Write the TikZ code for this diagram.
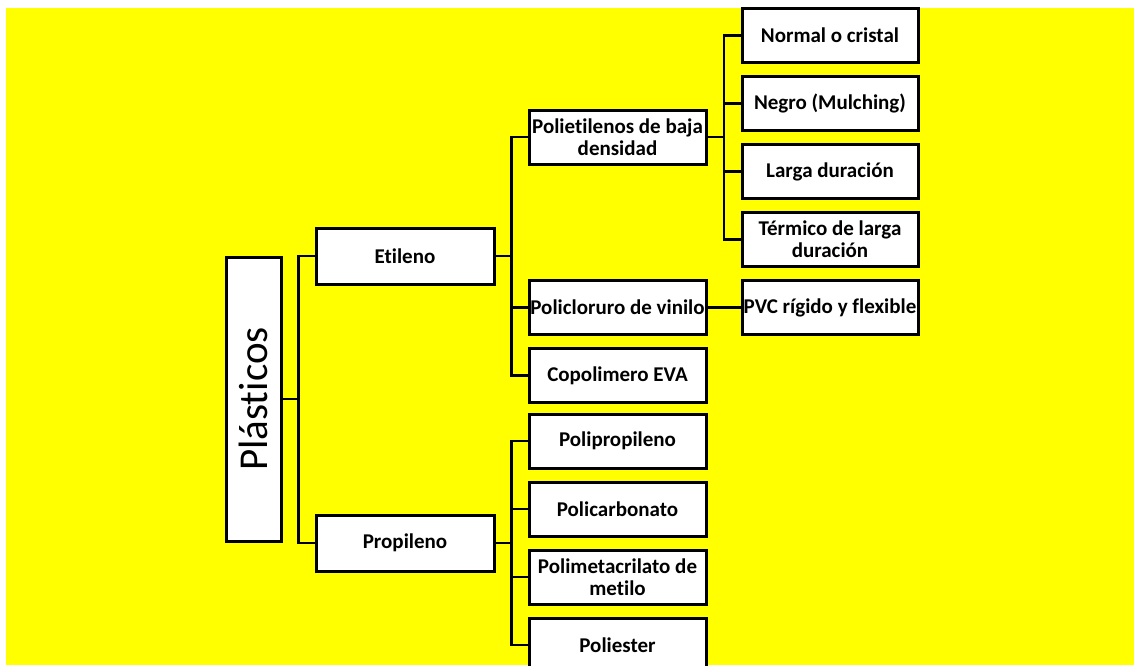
\documentclass[tikz,border=0pt]{standalone}
\usepackage{fontspec}
\setmainfont[Ligatures=NoCommon]{Carlito}
\usepackage{xcolor}
\usepackage{tikz}
\usetikzlibrary{positioning}

\definecolor{sheet}{RGB}{255,255,0}

\begin{document}
\begin{tikzpicture}[x=1pt, y=1pt,
  box/.style={draw, fill=white, line width=1.5pt, align=center, outer sep=0pt,
              inner xsep=0.5pt, inner ysep=1pt,
              font=\fontsize{10.5}{11}\selectfont\bfseries, minimum height=27pt},
  lvla/.style={box, minimum width=89pt, minimum height=28pt},
  lvlb/.style={box, minimum width=88.5pt},
  lvlc/.style={box, minimum width=88pt},
  con/.style={line width=1.3pt}]

  % page and yellow sheet
  \clip (0,0) rectangle (567,-332.5);
  \fill[sheet] (3,-4) rectangle (567,-332.5);

  % root and first level
  \node[draw, fill=white, line width=1.5pt, outer sep=0pt, inner sep=0pt,
        minimum width=27.5pt, minimum height=142pt,
        font=\fontsize{20.5}{22}\selectfont] (plast) at (126.75,-199.5)
        {\rotatebox{90}{Plásticos}};
  \node[lvla] (eti)  at (202.5,-128)   {Etileno};
  \node[lvla] (prop) at (202.5,-271.5) {Propileno};

  % third level (right column, top to bottom)
  \node[lvlc] (normal) at (415,-17.75)     {Normal o cristal};
  \node[lvlc, below=7pt of normal] (negro)   {Negro (Mulching)};
  \node[lvlc, below=7pt of negro]  (larga)   {Larga duración};
  \node[lvlc, below=7pt of larga]  (termico) {Térmico de larga\\duración};
  \node[lvlc, below=7pt of termico] (pvc)    {PVC rígido y flexible};

  % second level under Etileno
  \node[lvlb] (pe) at (308.75,-68.5) {Polietilenos de baja\\densidad};
  \node[lvlb] (pvcl) at (pvc -| pe) {Policloruro de vinilo};
  \node[lvlb, below=7pt of pvcl] (copo) {Copolimero EVA};

  % second level under Propileno
  \node[lvlb] (pp) at (308.75,-220.5) {Polipropileno};
  \node[lvlb, below=7pt of pp] (pc)   {Policarbonato};
  \node[lvlb, below=7pt of pc] (pm)   {Polimetacrilato de\\metilo};
  \node[lvlb, below=7pt of pm] (pest) {Poliester};

  % bracket joints
  \coordinate (jp)  at ([xshift=8.75pt]plast.east);
  \coordinate (je)  at ([xshift=8.75pt]eti.east);
  \coordinate (jpr) at ([xshift=8.75pt]prop.east);
  \coordinate (jpe) at ([xshift=9pt]pe.east);

  \draw[con] (plast.east) -- (jp) |- (eti.west);
  \draw[con] (jp) |- (prop.west);
  \foreach \n in {pe,pvcl,copo}
    \draw[con] (eti.east) -- (je) |- (\n.west);
  \foreach \n in {pp,pc,pm,pest}
    \draw[con] (prop.east) -- (jpr) |- (\n.west);
  \foreach \n in {normal,negro,larga,termico}
    \draw[con] (pe.east) -- (jpe) |- (\n.west);
  \draw[con] (pvcl.east) -- (pvc.west);
\end{tikzpicture}
\end{document}
